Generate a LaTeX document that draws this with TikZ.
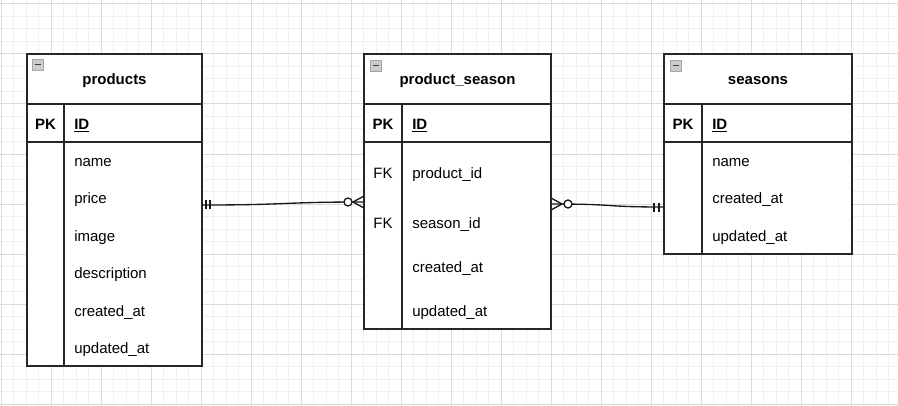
\documentclass[tikz,border=0pt]{standalone}
\usepackage{fontspec}
\setmainfont{Liberation Sans}
\begin{document}
\begin{tikzpicture}[x=0.75pt,y=-0.75pt,
  tbl/.style={draw=black!85, line width=1pt},
  fld/.style={anchor=mid west, inner sep=0pt, yshift=-1.5pt, font=\fontsize{11.25}{13}\selectfont},
  key/.style={anchor=mid, inner sep=0pt, yshift=-1.5pt, font=\fontsize{11.25}{13}\selectfont},
  ttl/.style={anchor=mid, inner sep=0pt, yshift=-1.5pt, font=\fontsize{11.25}{13}\selectfont\bfseries},
  bfld/.style={fld, font=\fontsize{11.25}{13}\selectfont\bfseries},
  bkey/.style={key, font=\fontsize{11.25}{13}\selectfont\bfseries},
  rel/.style={line width=1pt, draw=black!90},
  icon/.style={draw=gray!70, fill=gray!40, line width=0.6pt},
  minorgrid/.style={draw=black!6, line width=0.75pt},
  majorgrid/.style={draw=black!14, line width=0.75pt}]
\useasboundingbox (0,0) rectangle (898,406);
\fill[white] (0,0) rectangle (898,406);
% grid
\foreach \i in {0,...,72} {
  \pgfmathsetmacro{\gx}{1+12.5*\i}
  \draw[minorgrid] (\gx,0) -- (\gx,406);
}
\foreach \i in {0,...,33} {
  \pgfmathsetmacro{\gy}{4+12.5*\i}
  \draw[minorgrid] (0,\gy) -- (898,\gy);
}
\foreach \i in {0,...,18} {
  \pgfmathsetmacro{\gx}{1+50*\i}
  \draw[majorgrid] (\gx,0) -- (\gx,406);
}
\foreach \i in {0,...,8} {
  \pgfmathsetmacro{\gy}{4+50*\i}
  \draw[majorgrid] (0,\gy) -- (898,\gy);
}

% ---------- products ----------
\fill[white] (27,54) rectangle (202,366);
\draw[tbl] (27,54) rectangle (202,366);
\draw[tbl] (27,104) -- (202,104);
\draw[tbl] (27,142) -- (202,142);
\draw[tbl] (64,104) -- (64,366);
\draw[icon] (32,59) rectangle (43,70);
\draw[draw=black!75, line width=0.9pt] (34.5,64.5) -- (40.5,64.5);
\node[ttl] (pt) at (114.5,79) {products};
\node[bkey] (ppk) at (45.5,124) {PK};
\node[bfld] (pid) at (74,124) {\underline{ID}};
\node[fld] (pname) at (74,161) {name};
\node[fld] (pprice) at (74,198) {price};
\node[fld] (pimage) at (74,236) {image};
\node[fld] (pdesc) at (74,273) {description};
\node[fld] (pcreated) at (74,311) {created\_at};
\node[fld] (pupdated) at (74,348) {updated\_at};

% ---------- product_season ----------
\fill[white] (364,54) rectangle (551,329);
\draw[tbl] (364,54) rectangle (551,329);
\draw[tbl] (364,104) -- (551,104);
\draw[tbl] (364,142) -- (551,142);
\draw[tbl] (402,104) -- (402,329);
\draw[icon] (370,60) rectangle (381,71);
\draw[draw=black!75, line width=0.9pt] (372.5,65.5) -- (378.5,65.5);
\node[ttl] (st) at (457.5,79) {product\_season};
\node[bkey] (spk) at (383,124) {PK};
\node[bfld] (sid) at (412,124) {\underline{ID}};
\node[key] (sfk1) at (383,173) {FK};
\node[fld] (sprod) at (412,173) {product\_id};
\node[key] (sfk2) at (383,223) {FK};
\node[fld] (sseason) at (412,223) {season\_id};
\node[fld] (screated) at (412,267) {created\_at};
\node[fld] (supdated) at (412,311) {updated\_at};

% ---------- seasons ----------
\fill[white] (664,54) rectangle (852,254);
\draw[tbl] (664,54) rectangle (852,254);
\draw[tbl] (664,104) -- (852,104);
\draw[tbl] (664,142) -- (852,142);
\draw[tbl] (702,104) -- (702,254);
\draw[icon] (670,60) rectangle (681,71);
\draw[draw=black!75, line width=0.9pt] (672.5,65.5) -- (678.5,65.5);
\node[ttl] (et) at (758,79) {seasons};
\node[bkey] (epk) at (683,124) {PK};
\node[bfld] (eid) at (712,124) {\underline{ID}};
\node[fld] (ename) at (712,161) {name};
\node[fld] (ecreated) at (712,198) {created\_at};
\node[fld] (eupdated) at (712,236) {updated\_at};

% ---------- relation products -- product_season ----------
\coordinate (a1) at (202,205);
\coordinate (b1) at (364,202);
\draw[rel] (a1) .. controls (290,205) and (280,202) .. (b1);
\draw[rel] (206,200) -- (206,209);
\draw[rel] (210,200) -- (210,209);
\draw[rel] (353,202) -- (364,196);
\draw[rel] (353,202) -- (364,208);
\draw[rel, fill=white] (348,202) circle[radius=4];

% ---------- relation product_season -- seasons ----------
\coordinate (a2) at (551,204);
\coordinate (b2) at (664,207);
\draw[rel] (a2) .. controls (620,204) and (600,207) .. (b2);
\draw[rel] (551,198) -- (562,204);
\draw[rel] (551,210) -- (562,204);
\draw[rel, fill=white] (568,204) circle[radius=4];
\draw[rel] (654,202.5) -- (654,211.5);
\draw[rel] (659,202.5) -- (659,211.5);
\end{tikzpicture}
\end{document}
